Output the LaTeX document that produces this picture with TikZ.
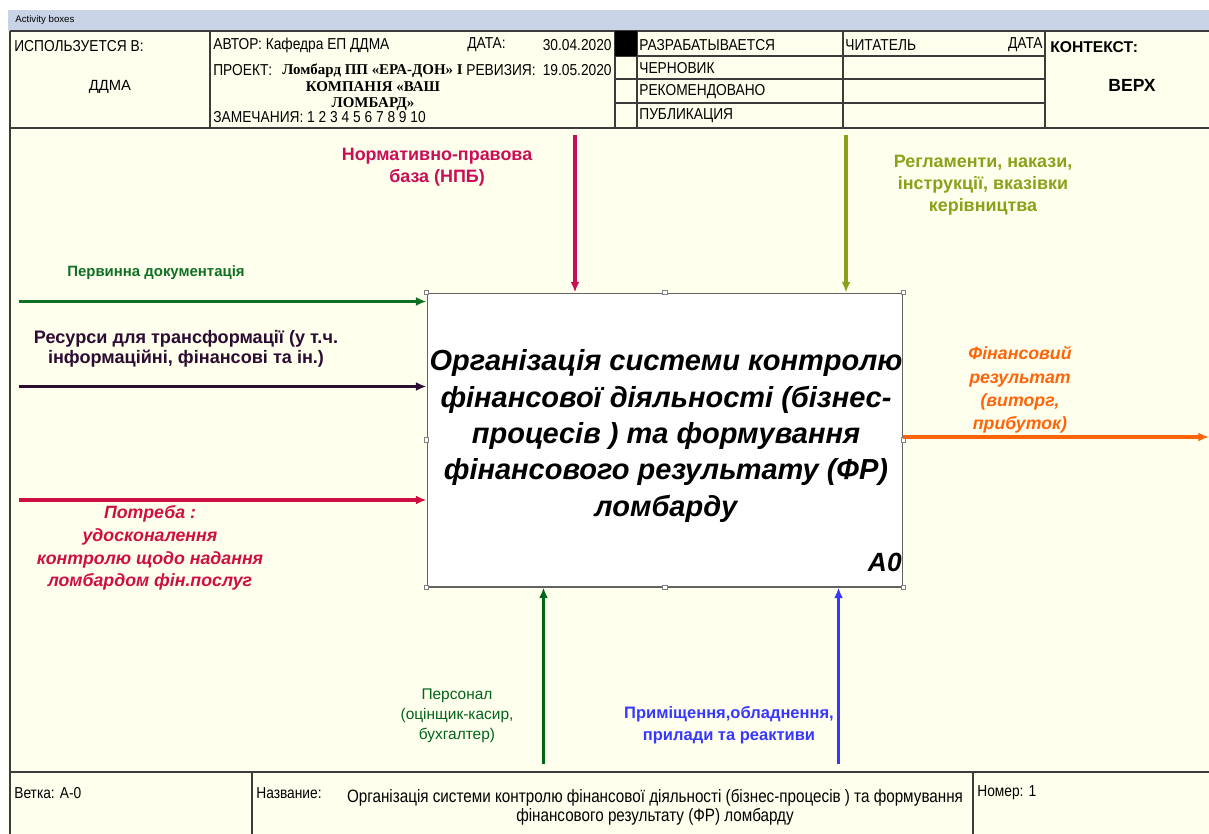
\documentclass[tikz,border=0pt]{standalone}
\usepackage{fontspec}
\setmainfont{Liberation Sans}
\newfontfamily\hdrfont[FakeStretch=0.87]{Liberation Sans}
\newfontfamily\ftrfont[FakeStretch=0.85]{Liberation Sans}
\newfontfamily\prjfont{Liberation Serif}
\usetikzlibrary{arrows.meta,positioning}

\definecolor{paper}{RGB}{255,255,238}
\definecolor{barblue}{RGB}{200,212,230}
\definecolor{frame}{RGB}{60,60,60}
\definecolor{docgreen}{RGB}{15,112,35}
\definecolor{respurple}{RGB}{45,12,50}
\definecolor{needred}{RGB}{205,15,65}
\definecolor{lawred}{RGB}{200,15,85}
\definecolor{ruleolive}{RGB}{140,160,25}
\definecolor{resorange}{RGB}{255,100,10}
\definecolor{staffgreen}{RGB}{0,100,25}
\definecolor{roomblue}{RGB}{55,55,255}

\tikzset{
  hdr/.style={anchor=west, inner sep=0pt, font=\hdrfont\fontsize{9}{10}\selectfont},
  prj/.style={inner sep=0pt, font=\prjfont\bfseries\fontsize{8.5}{9}\selectfont},
  grid/.style={draw=frame, line width=0.6pt},
  flow/.style={line width=1.8pt, -{Latex[length=6pt,width=5pt]}},
  lbl/.style={align=center, inner sep=0pt, font=\bfseries\fontsize{10.2}{12.4}\selectfont},
  lbli/.style={align=center, inner sep=0pt, font=\bfseries\itshape\fontsize{10.1}{12.9}\selectfont},
  handle/.style={draw=gray, fill=white, line width=0.4pt, minimum size=2.6pt, inner sep=0pt},
}

\begin{document}
\begin{tikzpicture}[x=0.02cm, y=-0.02cm]
	\useasboundingbox (0,0) rectangle (1209,834);
	\fill[white] (0,0) rectangle (1209,834);
	\fill[barblue] (8,10) rectangle (1209,31);
	\node (bar) [anchor=west, inner sep=0pt, font=\fontsize{5.5}{6}\selectfont] at (15,20) {Activity boxes};
	\fill[paper] (8,31) rectangle (1209,834);

	% header frame
	\draw[grid] (10,31) -- (1209,31);
	\draw[grid] (10,31) -- (10,834);
	\draw[grid] (10,128) -- (1209,128);
	\foreach \x in {210,615,637,843,1045} \draw[grid] (\x,31) -- (\x,128);
	\foreach \y in {56,79,103} \draw[grid] (615,\y) -- (1045,\y);
	\fill (615,31) rectangle (637,56);

	\node (usedin) [hdr] at (14,46) {ИСПОЛЬЗУЕТСЯ В:};
	\node (org) [inner sep=0pt, font=\fontsize{8.4}{9}\selectfont] at (110,87) {ДДМА};
	\node (author) [hdr] at (213,45) {АВТОР: Кафедра ЕП ДДМА};
	\node (datekey) [hdr] at (467,45) {ДАТА:};
	\node (dateval) [hdr, anchor=east] at (612,45) {30.04.2020};
	\node (project) [hdr] at (213,70) {ПРОЕКТ:};
	\node (pname) [prj, anchor=west] at (282,71) {Ломбард ПП «ЕРА-ДОН» І};
	\node (revkey) [hdr] at (466,70) {РЕВИЗИЯ:};
	\node (revval) [hdr, anchor=east] at (612,70) {19.05.2020};
	\node (pname2) [prj] at (373,87) {КОМПАНІЯ «ВАШ};
	\node (pname3) [prj] at (373,104) {ЛОМБАРД»};
	\node (notes) [hdr] at (213,117) {ЗАМЕЧАНИЯ: 1 2 3 4 5 6 7 8 9 10};

	\node (st1) [hdr] at (639,45) {РАЗРАБАТЫВАЕТСЯ};
	\node (st2) [hdr] at (639,68) {ЧЕРНОВИК};
	\node (st3) [hdr] at (639,92) {РЕКОМЕНДОВАНО};
	\node (st4) [hdr] at (639,116) {ПУБЛИКАЦИЯ};
	\node (reader) [hdr] at (845,45) {ЧИТАТЕЛЬ};
	\node (rdate) [hdr, anchor=east] at (1043,45) {ДАТА};
	\node (ctx) [anchor=west, inner sep=0pt, font=\bfseries\fontsize{8.9}{9}\selectfont] at (1050,47) {КОНТЕКСТ:};
	\node (top) [inner sep=0pt, font=\bfseries\fontsize{10}{10}\selectfont] at (1132,85) {ВЕРХ};

	% footer frame
	\draw[grid] (10,772) -- (1209,772);
	\foreach \x in {252,973} \draw[grid] (\x,772) -- (\x,834);
	\node (branch) [hdr] at (14,793) {Ветка: А-0};
	\node (namekey) [hdr] at (256,793) {Название:};
	\node (nameval) [align=center, inner sep=0pt, font=\ftrfont\fontsize{10.2}{11}\selectfont] at (655,807)
		{Організація системи контролю фінансової діяльності (бізнес-процесів ) та формування\\фінансового результату (ФР) ломбарду};
	\node (number) [hdr] at (977,793) {Номер: 1};

	% activity box
	\node (box) [draw=frame!80, fill=white, line width=0.6pt, inner sep=0pt,
		minimum width=9.52cm, minimum height=5.88cm] at (665,440) {};
	\node (title) [align=center, inner sep=0pt, font=\bfseries\itshape\fontsize{16.5}{20.7}\selectfont] at (666,436)
		{Організація системи контролю\\фінансової діяльності (бізнес-\\процесів ) та формування\\фінансового результату (ФР)\\ломбарду};
	\node (num) [anchor=east, inner sep=0pt, font=\bfseries\itshape\fontsize{15}{16}\selectfont] at (902,562) {A0};
	\foreach \a in {north west,north,north east,west,east,south west,south,south east}
		\node [handle] at (box.\a) {};

	% inputs
	\coordinate (docsrc) at (19,301.5);
	\coordinate (ressrc) at (19,386.5);
	\coordinate (needsrc) at (19,500);
	\draw[flow, docgreen] (docsrc) -- (docsrc -| box.west);
	\draw[flow, respurple] (ressrc) -- (ressrc -| box.west);
	\draw[flow, needred] (needsrc) -- (needsrc -| box.west);
	\node (doc) [lbl, docgreen, font=\bfseries\fontsize{8.5}{10}\selectfont] at (156,273) {Первинна документація};
	\node (res) [lbl, respurple, font=\bfseries\fontsize{10.3}{11.4}\selectfont] at (186,349) {Ресурси для трансформації (у т.ч.\\інформаційні, фінансові та ін.)};
	\node (need) [lbli, needred] at (150,548) {Потреба :\\удосконалення\\контролю щодо надання\\ломбардом фін.послуг};

	% controls
	\coordinate (lawsrc) at (575,135);
	\coordinate (rulesrc) at (846,135);
	\draw[flow, lawred] (lawsrc) -- (lawsrc |- box.north);
	\draw[flow, ruleolive] (rulesrc) -- (rulesrc |- box.north);
	\node (law) [lbl, lawred] at (437,167) {Нормативно-правова\\база (НПБ)};
	\node (rules) [lbl, ruleolive] at (983,185) {Регламенти, накази,\\інструкції, вказівки\\керівництва};

	% output
	\coordinate (resout) at (1209,437);
	\draw[flow, resorange] (resout -| box.east) -- (resout);
	\node (result) [lbli, resorange, font=\bfseries\itshape\fontsize{10.1}{13.3}\selectfont] at (1020,390) {Фінансовий\\результат\\(виторг,\\прибуток)};

	% mechanisms
	\coordinate (staffsrc) at (543.5,764);
	\coordinate (roomsrc) at (838.5,764);
	\draw[flow, staffgreen] (staffsrc) -- (staffsrc |- box.south);
	\draw[flow, roomblue] (roomsrc) -- (roomsrc |- box.south);
	\node (staff) [align=center, inner sep=0pt, staffgreen, font=\fontsize{8.8}{11.3}\selectfont] at (457,716) {Персонал\\(оцінщик-касир,\\бухгалтер)};
	\node (room) [lbl, roomblue, font=\bfseries\fontsize{9.4}{12.3}\selectfont] at (729,725) {Приміщення,обладнення,\\прилади та реактиви};
\end{tikzpicture}
\end{document}
